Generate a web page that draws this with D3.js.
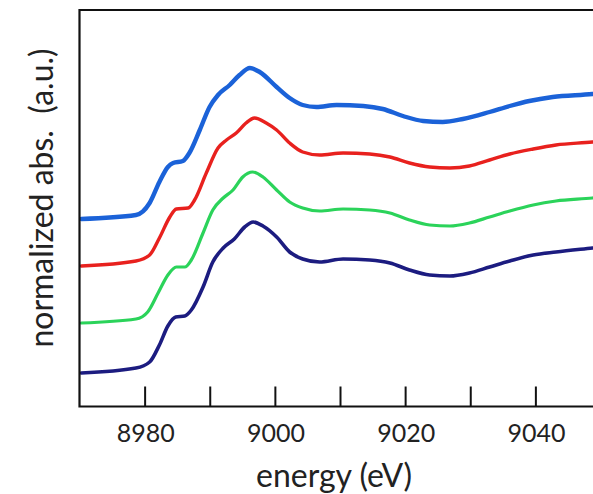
<!DOCTYPE html>
<html>
<head>
<meta charset="utf-8">
<script src="https://cdn.jsdelivr.net/npm/d3@7"></script>
<style>
  body { margin: 0; background: #fff; }
  text { font-family: Lato, "Open Sans", sans-serif; fill: #222; }
</style>
</head>
<body>
<svg id="chart"></svg>
<script>
// XANES-like spectra, stacked with offsets (arbitrary units)
var blueE = [8970.1, 8978.5, 8980.6, 8982.1, 8983.4, 8984.2, 8985.7, 8986.7, 8988.3, 8989.8, 8991.1, 8992.9, 8994.4, 8996.0, 8997.5, 9000.1, 9002.1, 9004.1, 9006.2, 9009.3, 9013.4, 9016.4, 9019.5, 9022.6, 9025.6, 9028.7, 9032.8, 9035.9, 9038.9, 9042.5, 9048.6, 9050]
var blueY = [1.88, 1.92, 2.04, 2.25, 2.40, 2.44, 2.46, 2.54, 2.77, 3.00, 3.12, 3.22, 3.32, 3.39, 3.35, 3.20, 3.09, 3.02, 3.00, 3.02, 3.01, 2.98, 2.91, 2.86, 2.85, 2.88, 2.95, 3.01, 3.06, 3.10, 3.13, 3.14]

var redE = [8970.1, 8978.5, 8980.6, 8982.1, 8983.7, 8984.7, 8986.5, 8987.5, 8989.3, 8991.1, 8992.4, 8993.9, 8995.4, 8996.7, 8998.5, 9000.1, 9002.1, 9004.1, 9006.7, 9010.3, 9014.4, 9017.5, 9020.5, 9023.6, 9026.7, 9029.7, 9032.8, 9035.9, 9039.5, 9043.0, 9048.6, 9050]
var redY = [1.41, 1.46, 1.52, 1.69, 1.90, 1.98, 1.99, 2.07, 2.34, 2.59, 2.67, 2.74, 2.84, 2.89, 2.84, 2.77, 2.64, 2.55, 2.52, 2.54, 2.53, 2.50, 2.44, 2.40, 2.39, 2.41, 2.47, 2.53, 2.58, 2.62, 2.65, 2.66]

var greenE = [8970.1, 8978.5, 8980.3, 8981.9, 8983.4, 8984.7, 8986.0, 8987.0, 8988.8, 8990.3, 8991.9, 8993.4, 8994.9, 8996.4, 8998.0, 9000.1, 9002.1, 9004.1, 9006.7, 9010.3, 9014.4, 9017.5, 9020.5, 9023.6, 9026.7, 9029.7, 9032.8, 9035.9, 9039.5, 9043.0, 9048.6, 9050]
var greenY = [0.84, 0.88, 0.95, 1.14, 1.32, 1.40, 1.40, 1.47, 1.74, 1.97, 2.09, 2.17, 2.30, 2.35, 2.30, 2.17, 2.05, 1.99, 1.96, 1.98, 1.97, 1.94, 1.87, 1.82, 1.81, 1.84, 1.90, 1.96, 2.02, 2.06, 2.09, 2.10]

var navyE = [8970.1, 8978.5, 8980.6, 8982.1, 8983.4, 8984.6, 8986.0, 8987.0, 8988.8, 8990.3, 8991.9, 8993.6, 8995.2, 8996.5, 8998.0, 9000.1, 9002.1, 9004.1, 9006.7, 9010.3, 9014.4, 9017.5, 9020.5, 9023.6, 9026.7, 9029.7, 9032.8, 9035.9, 9039.5, 9043.0, 9048.6, 9050]
var navyY = [0.34, 0.39, 0.45, 0.62, 0.81, 0.90, 0.91, 0.97, 1.20, 1.45, 1.59, 1.68, 1.80, 1.85, 1.81, 1.70, 1.55, 1.48, 1.45, 1.48, 1.47, 1.44, 1.37, 1.32, 1.31, 1.34, 1.40, 1.46, 1.52, 1.55, 1.59, 1.60]

var majorTicks = [8980, 8990, 9000, 9010, 9020, 9030, 9040]
var tickLabels = [8980, 9000, 9020, 9040]

var width = 593, height = 494
var svg = d3.select("#chart").attr("width", width).attr("height", height)

var x = d3.scaleLinear().domain([8970, 9050]).range([80.6, 601.6])
var y = d3.scaleLinear().domain([0, 4]).range([407, 7])

var frameLeft = 79.5, frameTop = 10, frameBottom = 406.5

// curves
var series = [
  {e: navyE, v: navyY, color: "#1c1c80", w: 3.6},
  {e: greenE, v: greenY, color: "#2bd35a", w: 3.2},
  {e: redE, v: redY, color: "#e8211e", w: 3.4},
  {e: blueE, v: blueY, color: "#1b62d8", w: 4.4}
]
var line = d3.line()
  .x(function(d) { return x(d[0]) })
  .y(function(d) { return y(d[1]) })
  .curve(d3.curveMonotoneX)

series.forEach(function(s) {
  svg.append("path")
    .datum(s.e.map(function(e, i) { return [e, s.v[i]] }))
    .attr("d", line)
    .attr("fill", "none")
    .attr("stroke", s.color)
    .attr("stroke-width", s.w)
    .attr("stroke-linejoin", "round")
    .attr("stroke-linecap", "round")
})

// frame: left, top, bottom
svg.append("path")
  .attr("d", "M" + width + "," + frameTop + "H" + frameLeft + "V" + frameBottom + "H" + width)
  .attr("fill", "none")
  .attr("stroke", "#111")
  .attr("stroke-width", 2.2)

// inward ticks on bottom axis
svg.selectAll(".tick").data(majorTicks).enter().append("line")
  .attr("x1", function(d) { return x(d) - 0.6 })
  .attr("x2", function(d) { return x(d) - 0.6 })
  .attr("y1", frameBottom)
  .attr("y2", frameBottom - 20)
  .attr("stroke", "#111")
  .attr("stroke-width", 2)

svg.selectAll(".tlabel").data(tickLabels).enter().append("text")
  .attr("x", function(d) { return x(d) })
  .attr("y", 442)
  .attr("text-anchor", "middle")
  .attr("font-size", "25px")
  .text(function(d) { return d })

svg.append("text")
  .attr("x", 334)
  .attr("y", 487)
  .attr("text-anchor", "middle")
  .attr("font-size", "32px")
  .text("energy (eV)")

svg.append("text")
  .attr("transform", "translate(53,198) rotate(-90)")
  .attr("text-anchor", "middle")
  .attr("font-size", "32px")
  .attr("xml:space", "preserve")
  .text("normalized abs.  (a.u.)")
</script>
</body>
</html>
